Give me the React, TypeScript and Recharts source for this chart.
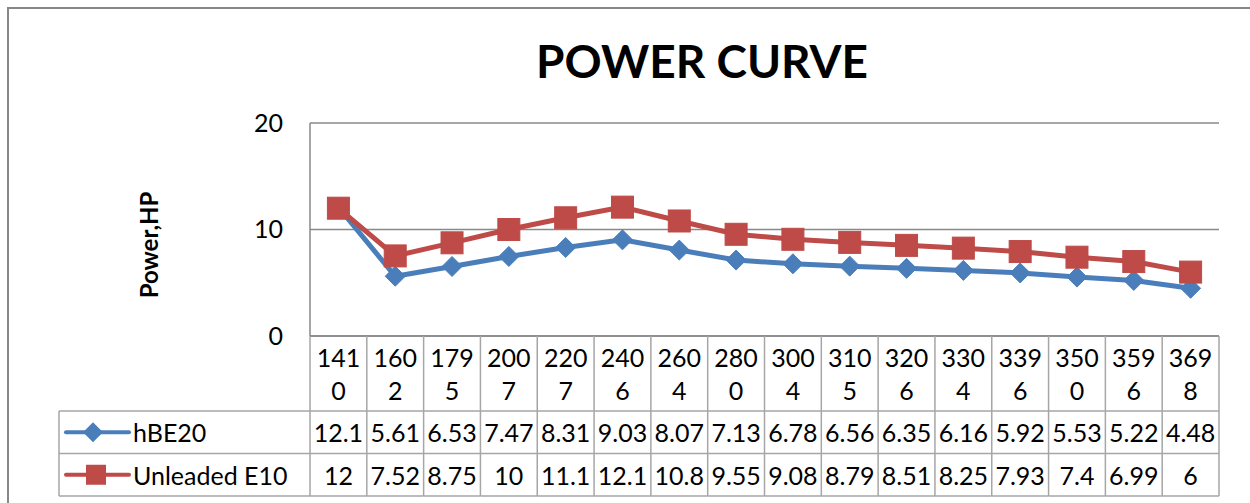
import React from 'react';
import { LineChart, Line, XAxis, YAxis, CartesianGrid } from 'recharts';

// engine speed (rpm), shown wrapped in the data table
const rpm = ['1410', '1602', '1795', '2007', '2207', '2406', '2604', '2800', '3004', '3105', '3206', '3304', '3396', '3500', '3596', '3698'];
const hBE20 = [12.1, 5.61, 6.53, 7.47, 8.31, 9.03, 8.07, 7.13, 6.78, 6.56, 6.35, 6.16, 5.92, 5.53, 5.22, 4.48];
const unleadedE10 = [12, 7.52, 8.75, 10, 11.1, 12.1, 10.8, 9.55, 9.08, 8.79, 8.51, 8.25, 7.93, 7.4, 6.99, 6];
const yTicks = [0, 10, 20];
const seriesNames = ['hBE20', 'Unleaded E10'];

const data = rpm.map((r, i) => ({ rpm: r, hBE20: hBE20[i], e10: unleadedE10[i] }));

const W = 1250;
const H = 503;
const margin = { top: 123, right: 31, bottom: 7, left: 250 };
const Y_AXIS_W = 60;
const X_AXIS_H = 160;
const PLOT_W = W - margin.left - Y_AXIS_W - margin.right;
const COL_W = PLOT_W / rpm.length;
const HEAD_H = 75;
const ROW_H = 42.5;
const LEGEND_W = 251;

const FONT = 'Lato, "Open Sans", sans-serif';
const BLUE = '#4A7EBB';
const RED = '#BE4B48';
const AXIS = '#898989';
const TABLE = '#a6a6a6';

const diamond = (cx: number, cy: number, r: number) =>
  `M${cx},${cy - r}L${cx + r},${cy}L${cx},${cy + r}L${cx - r},${cy}Z`;

const renderDiamond = (p: any) => (
  <path key={`d-${p.index}`} d={diamond(p.cx, p.cy, 10)} fill={BLUE} stroke={BLUE} strokeWidth={1} />
);

const renderSquare = (p: any) => (
  <rect key={`s-${p.index}`} x={p.cx - 11} y={p.cy - 11} width={22} height={22} fill={RED} stroke={RED} strokeWidth={1} />
);

const txt = {
  fontFamily: FONT,
  fontSize: 25,
  fill: '#000',
  dominantBaseline: 'central' as const,
};

// every x tick draws one column of the data table (and the first one the legend cells)
function TableTick(props: any) {
  const { x, y, index, payload } = props;
  const label = String(payload.value);
  const l = x - COL_W / 2;
  const r = x + COL_W / 2;
  const rowsTop = y + HEAD_H;
  const bottom = rowsTop + 2 * ROW_H;
  const row = data[index];

  let legend = null;
  if (index === 0) {
    const lx = l - LEGEND_W;
    const c1 = rowsTop + ROW_H / 2;
    const c2 = rowsTop + ROW_H * 1.5;
    legend = (
      <g>
        <line x1={lx} x2={l} y1={rowsTop} y2={rowsTop} stroke={TABLE} strokeWidth={1.5} />
        <line x1={lx} x2={l} y1={rowsTop + ROW_H} y2={rowsTop + ROW_H} stroke={TABLE} strokeWidth={1.5} />
        <line x1={lx} x2={l} y1={bottom} y2={bottom} stroke={TABLE} strokeWidth={1.5} />
        <line x1={lx} x2={lx} y1={rowsTop} y2={bottom} stroke={TABLE} strokeWidth={1.5} />
        <line x1={l} x2={l} y1={y} y2={bottom} stroke={TABLE} strokeWidth={1.5} />
        <line x1={lx + 7} x2={lx + 70} y1={c1} y2={c1} stroke={BLUE} strokeWidth={4} strokeLinecap="round" />
        <path d={diamond(lx + 34, c1, 10)} fill={BLUE} />
        <line x1={lx + 7} x2={lx + 70} y1={c2} y2={c2} stroke={RED} strokeWidth={4} strokeLinecap="round" />
        <rect x={lx + 27} y={c2 - 10} width={20} height={20} fill={RED} />
        <text x={lx + 74} y={c1} {...txt} textAnchor="start">{seriesNames[0]}</text>
        <text x={lx + 74} y={c2} {...txt} textAnchor="start">{seriesNames[1]}</text>
      </g>
    );
  }

  return (
    <g>
      {legend}
      <line x1={r} x2={r} y1={y} y2={bottom} stroke={TABLE} strokeWidth={1.5} />
      <line x1={l} x2={r} y1={rowsTop} y2={rowsTop} stroke={TABLE} strokeWidth={1.5} />
      <line x1={l} x2={r} y1={rowsTop + ROW_H} y2={rowsTop + ROW_H} stroke={TABLE} strokeWidth={1.5} />
      <line x1={l} x2={r} y1={bottom} y2={bottom} stroke={TABLE} strokeWidth={1.5} />
      <text x={x} y={y + 21} {...txt} textAnchor="middle">{label.slice(0, 3)}</text>
      <text x={x} y={y + 54} {...txt} textAnchor="middle">{label.slice(3)}</text>
      <text x={x} y={rowsTop + ROW_H / 2} {...txt} textAnchor="middle">{row.hBE20}</text>
      <text x={x} y={rowsTop + ROW_H * 1.5} {...txt} textAnchor="middle">{row.e10}</text>
    </g>
  );
}

export default function App() {
  return (
    <div style={{ position: 'absolute', left: 0, top: 0, width: W, height: H, overflow: 'hidden', background: '#fff' }}>
      <div
        style={{
          position: 'absolute', left: 7, top: 7, width: W, height: H,
          border: '2px solid #878787', boxSizing: 'border-box',
        }}
      />
      <div
        style={{
          position: 'absolute', left: 402, top: 33, width: 600, textAlign: 'center',
          fontFamily: FONT, fontWeight: 'bold', fontSize: 46, lineHeight: 1.2, color: '#000',
        }}
      >
        POWER CURVE
      </div>
      <div
        style={{
          position: 'absolute', left: 148, top: 245, transform: 'translate(-50%, -50%) rotate(-90deg)',
          fontFamily: FONT, fontWeight: 'bold', fontSize: 24, whiteSpace: 'nowrap', color: '#000',
        }}
      >
        Power,HP
      </div>
      <div style={{ position: 'absolute', left: 0, top: 0 }}>
        <LineChart width={W} height={H} data={data} margin={margin}>
          <CartesianGrid vertical={false} stroke={AXIS} strokeWidth={1.5} />
          <XAxis
            dataKey="rpm"
            interval={0}
            height={X_AXIS_H}
            padding={{ left: COL_W / 2, right: COL_W / 2 }}
            tickLine={false}
            tickSize={0}
            tickMargin={0}
            axisLine={{ stroke: AXIS, strokeWidth: 1.5 }}
            tick={(p: any) => <TableTick {...p} />}
          />
          <YAxis
            width={Y_AXIS_W}
            domain={[0, 20]}
            ticks={yTicks}
            tickLine={false}
            tickSize={0}
            tickMargin={27}
            axisLine={{ stroke: AXIS, strokeWidth: 1.5 }}
            tick={{ fontFamily: FONT, fontSize: 25, fill: '#000' }}
          />
          <Line
            type="linear"
            dataKey="hBE20"
            stroke={BLUE}
            strokeWidth={5}
            dot={renderDiamond}
            activeDot={false}
            isAnimationActive={false}
          />
          <Line
            type="linear"
            dataKey="e10"
            stroke={RED}
            strokeWidth={5}
            dot={renderSquare}
            activeDot={false}
            isAnimationActive={false}
          />
        </LineChart>
      </div>
    </div>
  );
}
